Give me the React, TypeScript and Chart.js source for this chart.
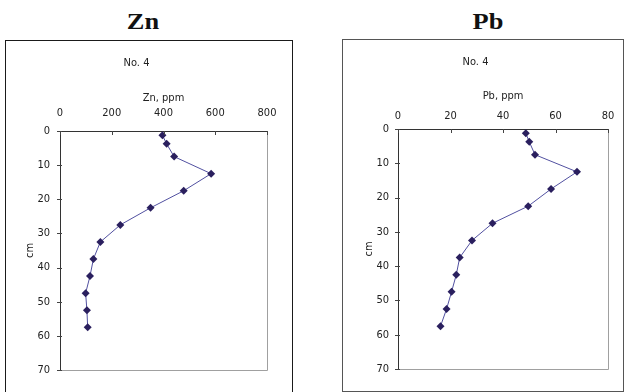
import React, { useEffect, useRef } from "react";
import { Chart, registerables } from "chart.js";

Chart.register(...registerables);

const depthCm = [1.25, 3.75, 7.5, 12.5, 17.5, 22.5, 27.5, 32.5, 37.5, 42.5, 47.5, 52.5, 57.5];
const znPpm = [396, 412, 441, 584, 478, 350, 233, 156, 129, 116, 99, 104, 107];
const pbPpm = [48.7, 50, 52.2, 68.2, 58.3, 49.6, 36, 28.2, 23.5, 22.2, 20.4, 18.5, 16.2];
const znTicks = [0, 200, 400, 600, 800];
const pbTicks = [0, 20, 40, 60, 80];
const depthTicks = [0, 10, 20, 30, 40, 50, 60, 70];

const SANS = "'Liberation Sans Narrow', 'DejaVu Sans Condensed', 'Liberation Sans', Arial, sans-serif";

type Geo = {
  boxLeft: number; boxTop: number; boxW: number; boxH: number;
  titleX: number;
  plotLeft: number; plotTop: number; plotRight: number; plotBottom: number;
  noTitleY: number; axisTitleY: number; xTickGap: number; yTickGap: number; yTitleX: number;
  borderColor: string;
};

const framePlugin = {
  id: "frame",
  afterDatasetsDraw(chart: any) {
    const { ctx, chartArea } = chart;
    const xs = chart.scales.x;
    const ys = chart.scales.y;
    ctx.save();
    ctx.lineWidth = 1;
    ctx.strokeStyle = "#a0a0a0";
    ctx.beginPath();
    ctx.moveTo(Math.round(chartArea.right) + 0.5, chartArea.top);
    ctx.lineTo(Math.round(chartArea.right) + 0.5, Math.round(chartArea.bottom) + 0.5);
    ctx.lineTo(chartArea.left, Math.round(chartArea.bottom) + 0.5);
    ctx.stroke();
    ctx.strokeStyle = "#444";
    ctx.beginPath();
    xs.ticks.forEach((t: any) => {
      const px = Math.round(xs.getPixelForValue(t.value)) + 0.5;
      ctx.moveTo(px, chartArea.top);
      ctx.lineTo(px, chartArea.top + 4);
    });
    ys.ticks.forEach((t: any) => {
      const py = Math.round(ys.getPixelForValue(t.value)) + 0.5;
      ctx.moveTo(chartArea.left - 3, py);
      ctx.lineTo(chartArea.left + 2, py);
    });
    ctx.stroke();
    ctx.restore();
  },
};

function Panel(props: { title: string; xTitle: string; values: number[]; ticks: number[]; max: number; geo: Geo }) {
  const { title, xTitle, values, ticks, max, geo } = props;
  const ref = useRef<HTMLCanvasElement | null>(null);
  useEffect(() => {
    if (!ref.current) return;
    const font = { family: SANS, size: 11 };
    const titlePadTop = geo.noTitleY - geo.boxTop - 6.6;
    const titleBlock = 13.2 + titlePadTop;
    const plotTopC = geo.plotTop - geo.boxTop;
    const plotLeftC = geo.plotLeft - geo.boxLeft;
    const axisH = plotTopC - titleBlock;
    const chart = new Chart(ref.current, {
      type: "scatter",
      data: {
        datasets: [
          {
            data: values.map((v, i) => ({ x: v, y: depthCm[i] })),
            showLine: true,
            borderColor: "#5150a0",
            borderWidth: 1,
            pointStyle: "rectRot",
            pointRadius: 4,
            pointBackgroundColor: "#2a1f5e",
            pointBorderColor: "#2a1f5e",
            pointBorderWidth: 0,
          },
        ],
      },
      options: {
        animation: false,
        responsive: false,
        layout: {
          padding: {
            left: 0,
            top: 0,
            right: geo.boxW - (geo.plotRight - geo.boxLeft),
            bottom: geo.boxH - (geo.plotBottom - geo.boxTop),
          },
        },
        plugins: {
          legend: { display: false },
          tooltip: { enabled: false },
          title: {
            display: true,
            text: "No. 4",
            color: "#222",
            font: { family: SANS, size: 11, weight: "normal" },
            padding: { top: titlePadTop, bottom: 0 },
          },
        },
        scales: {
          x: {
            type: "linear",
            position: "top",
            min: 0,
            max: max,
            afterBuildTicks: (s: any) => {
              s.ticks = ticks.map((v) => ({ value: v }));
            },
            afterFit: (s: any) => {
              s.height = axisH;
            },
            grid: { display: false, drawTicks: false },
            border: { display: true, color: "#333", width: 1 },
            ticks: { font, color: "#222", padding: geo.xTickGap },
            title: {
              display: true,
              text: xTitle,
              font,
              color: "#222",
              padding: { top: geo.axisTitleY - geo.boxTop - titleBlock - 6.6, bottom: 0 },
            },
          },
          y: {
            type: "linear",
            reverse: true,
            min: 0,
            max: 70,
            afterBuildTicks: (s: any) => {
              s.ticks = depthTicks.map((v) => ({ value: v }));
            },
            afterFit: (s: any) => {
              s.width = plotLeftC;
            },
            grid: { display: false, drawTicks: false },
            border: { display: true, color: "#333", width: 1 },
            ticks: { font, color: "#222", padding: geo.yTickGap },
            title: {
              display: true,
              text: "cm",
              font,
              color: "#222",
              padding: { top: geo.yTitleX - geo.boxLeft - 6.6, bottom: 0 },
            },
          },
        },
      } as any,
      plugins: [framePlugin],
    });
    return () => chart.destroy();
  }, []);

  return (
    <>
      <div
        style={{
          position: "absolute",
          left: geo.titleX - 60,
          width: 120,
          top: 7,
          textAlign: "center",
          fontFamily: "'Liberation Serif', 'Times New Roman', serif",
          fontWeight: "bold",
          fontSize: 24,
          lineHeight: "28px",
          color: "#111",
          transform: "scaleX(1.1)",
        }}
      >
        {title}
      </div>
      <div
        style={{
          position: "absolute",
          left: geo.boxLeft - 1,
          top: geo.boxTop - 1,
          width: geo.boxW,
          height: geo.boxH,
          border: `1px solid ${geo.borderColor}`,
          background: "#fff",
        }}
      >
        <canvas ref={ref} width={geo.boxW} height={geo.boxH} style={{ display: "block" }} />
      </div>
    </>
  );
}

const znGeo: Geo = {
  boxLeft: 6, boxTop: 41, boxW: 286, boxH: 360,
  titleX: 143,
  plotLeft: 60, plotTop: 131, plotRight: 267, plotBottom: 370,
  noTitleY: 63, axisTitleY: 98, xTickGap: 11, yTickGap: 10, yTitleX: 30,
  borderColor: "#1a1a1a",
};

const pbGeo: Geo = {
  boxLeft: 343, boxTop: 40, boxW: 280, boxH: 351,
  titleX: 488,
  plotLeft: 398, plotTop: 129, plotRight: 608, plotBottom: 369,
  noTitleY: 62, axisTitleY: 96, xTickGap: 6.5, yTickGap: 9, yTitleX: 369,
  borderColor: "#555",
};

export default function App() {
  return (
    <div style={{ position: "absolute", left: 0, top: 0, width: 625, height: 392, overflow: "hidden", background: "#fff" }}>
      <Panel title="Zn" xTitle="Zn, ppm" values={znPpm} ticks={znTicks} max={800} geo={znGeo} />
      <Panel title="Pb" xTitle="Pb, ppm" values={pbPpm} ticks={pbTicks} max={80} geo={pbGeo} />
    </div>
  );
}
